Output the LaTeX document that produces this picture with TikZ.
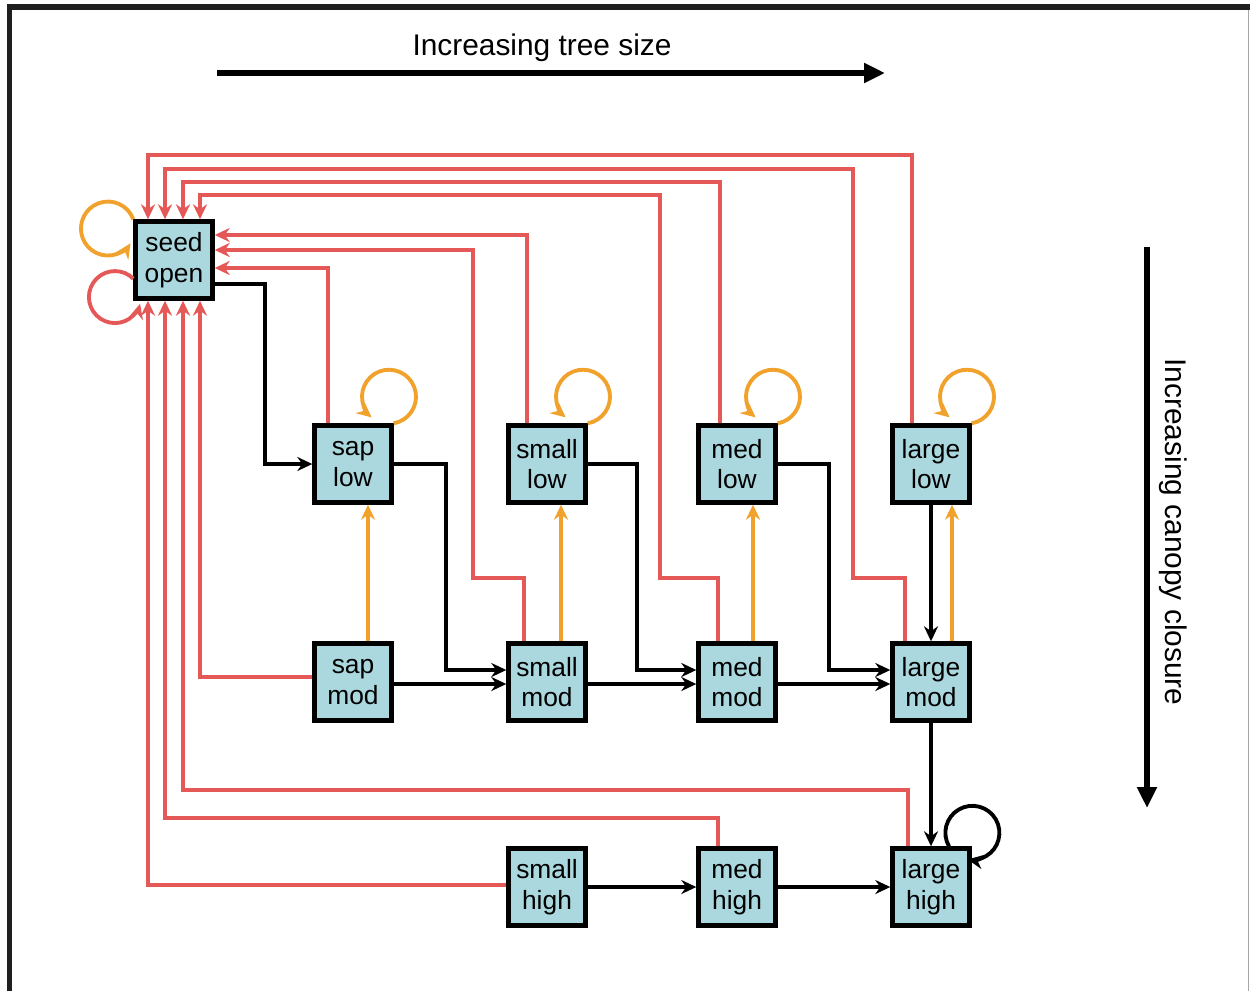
\documentclass[tikz,border=0pt]{standalone}
\usepackage{fontspec}
\setmainfont{Liberation Sans}
\usetikzlibrary{arrows.meta,calc}
\usepackage{xcolor}
\definecolor{BoxFill}{RGB}{170,216,222}
\definecolor{Coral}{RGB}{229,88,88}
\definecolor{Amber}{RGB}{240,162,44}
\tikzset{
  cnode/.style={rectangle,draw=black,line width=2.5pt,fill=BoxFill,
                font=\fontsize{15}{17.5}\selectfont,align=center,
                minimum size=1.54cm,inner sep=0pt},
  bedge/.style={-{Stealth[length=3mm,width=2.8mm]},line width=2.2pt,black},
  redge/.style={bedge,Coral},
  oedge/.style={bedge,Amber},
  axarrow/.style={-{Triangle[length=4.2mm,width=3.8mm]},line width=3.6pt},
  axlabel/.style={font=\fontsize{17}{20}\selectfont},
}

\begin{document}
\begin{tikzpicture}[x=0.02cm,y=-0.02cm]
  \useasboundingbox (0,0) rectangle (1250,991);
  % frame
  \fill[black!88] (7,4) rectangle (1250,10);
  \fill[black!88] (7,4) rectangle (12,991);
  \draw[black!35,line width=0.8pt] (1248.5,10) -- (1248.5,991);
  %
  \node[axlabel] (tsize) at (542,48) {Increasing tree size};
  \coordinate (ts0) at (217,73);
  \coordinate (ts1) at (885,73);
  \draw[axarrow] (ts0) -- (ts1);
  \node[axlabel,rotate=-90] (canopy) at (1173,532) {Increasing canopy closure};
  \coordinate (cc0) at (1147,247);
  \coordinate (cc1) at (1147,808);
  \draw[axarrow] (cc0) -- (cc1);
  %
  \node[cnode] (so) at (174,260) {seed\\open};
  \node[cnode] (sl) at (353,464) {sap\\low};
  \node[cnode] (sml) at (547,464) {small\\low};
  \node[cnode] (mdl) at (737,464) {med\\low};
  \node[cnode] (lgl) at (931,464) {large\\low};
  \node[cnode] (sm) at (353,682) {sap\\mod};
  \node[cnode] (smm) at (547,682) {small\\mod};
  \node[cnode] (mdm) at (737,682) {med\\mod};
  \node[cnode] (lgm) at (931,682) {large\\mod};
  \node[cnode] (smh) at (547,887) {small\\high};
  \node[cnode] (mdh) at (737,887) {med\\high};
  \node[cnode] (lgh) at (931,887) {large\\high};
  %
  % back to seed
  \draw[redge] ($(lgl.north)+(-19,0)$) |- (148,155) -- ($(so.north)+(-26,0)$);
  \draw[redge] ($(lgm.north)+(-26,0)$) |- (853,578) |- (165,169) -- ($(so.north)+(-9,0)$);
  \draw[redge] ($(mdl.north)+(-17,0)$) |- (183,182) -- ($(so.north)+(9,0)$);
  \draw[redge] ($(mdm.north)+(-19,0)$) |- (660,578) |- (200,195) -- ($(so.north)+(26,0)$);
  \draw[redge] ($(sml.north)+(-20,0)$) |- ($(so.east)+(0,-25)$);
  \draw[redge] ($(smm.north)+(-23,0)$) |- (473,578) |- ($(so.east)+(0,-10)$);
  \draw[redge] ($(sl.north)+(-25,0)$) |- ($(so.east)+(0,8)$);
  \draw[redge] ($(sm.west)+(0,-5)$) -| ($(so.south)+(26,0)$);
  \draw[redge] ($(lgh.north)+(-23,0)$) |- (183,790) -- ($(so.south)+(9,0)$);
  \draw[redge] ($(mdh.north)+(-19,0)$) |- (165,818) -- ($(so.south)+(-9,0)$);
  \draw[redge] ($(smh.west)+(0,-2)$) -| ($(so.south)+(-26,0)$);
  \draw[redge] ($(so.south west)+(0,-22)$) arc[start angle=-45,end angle=-345,radius=26];
  %
  % growth
  \draw[bedge] ($(so.east)+(0,24)$) -| (265,464) -- (sl.west);
  \draw[bedge] (sl.east) -| (446,670) -- ($(smm.west)+(0,-12)$);
  \draw[bedge] ($(sm.east)+(0,2)$) -- ($(smm.west)+(0,2)$);
  \draw[bedge] (sml.east) -| (637,670) -- ($(mdm.west)+(0,-12)$);
  \draw[bedge] ($(smm.east)+(0,2)$) -- ($(mdm.west)+(0,2)$);
  \draw[bedge] (mdl.east) -| (829,670) -- ($(lgm.west)+(0,-12)$);
  \draw[bedge] ($(mdm.east)+(0,2)$) -- ($(lgm.west)+(0,2)$);
  \draw[bedge] (lgl) -- (lgm);
  \draw[bedge] (lgm) -- (lgh);
  \draw[bedge] (smh) -- (mdh);
  \draw[bedge] (mdh) -- (lgh);
  \draw[bedge] ($(lgh.north)+(18,0)$) arc[start angle=150,end angle=460,radius=27];
  %
  % opening up
  \draw[oedge] ($(sm.north)+(15,0)$) -- ($(sl.south)+(15,0)$);
  \draw[oedge] ($(smm.north)+(14,0)$) -- ($(sml.south)+(14,0)$);
  \draw[oedge] ($(mdm.north)+(16,0)$) -- ($(mdl.south)+(16,0)$);
  \draw[oedge] ($(lgm.north)+(21,0)$) -- ($(lgl.south)+(21,0)$);
  \foreach \n in {sl,sml,mdl,lgl}
    \draw[oedge] (\n.north east) arc[start angle=80,end angle=-230,radius=27];
  \draw[oedge] (so.north west) arc[start angle=-20,end angle=-327,radius=27];
\end{tikzpicture}
\end{document}
